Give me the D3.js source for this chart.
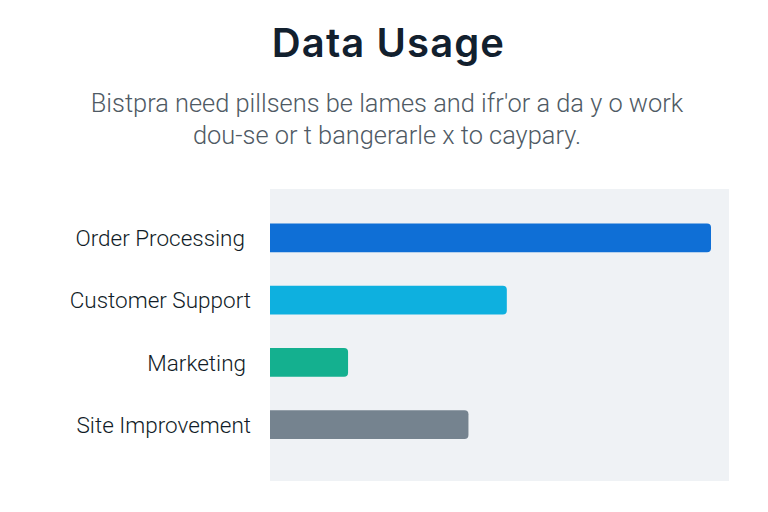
<!DOCTYPE html>
<html>
<head>
<meta charset="utf-8">
<script src="https://cdn.jsdelivr.net/npm/d3@7"></script>
<style>
  html, body { margin: 0; padding: 0; background: #fff; }
  svg { display: block; }
  .title { font-family: Inter, sans-serif; }
  .subtitle { font-family: Roboto, sans-serif; }
  .label { font-family: Roboto, sans-serif; }
</style>
</head>
<body>
<div id="chart"></div>
<script>
const categories = ["Order Processing", "Customer Support", "Marketing", "Site Improvement"];
const values = [100, 53.7, 17.7, 45];
const barColors = ["#0f6fd6", "#0eb0df", "#14b08f", "#75838f"];
const subtitleLines = [
  "Bistpra need pillsens be lames and ifr'or a da y o work",
  "dou-se or t bangerarle x to caypary."
];

const width = 768, height = 512;
const plot = { left: 270, right: 729, top: 189, bottom: 481 };

const svg = d3.select("#chart").append("svg")
  .attr("width", width)
  .attr("height", height);

svg.append("text")
  .attr("class", "title")
  .attr("x", 388.5).attr("y", 57)
  .attr("text-anchor", "middle")
  .attr("font-size", 40).attr("font-weight", 600)
  .attr("letter-spacing", 1.1)
  .attr("fill", "#12202e")
  .text("Data Usage");

svg.selectAll(".subtitle")
  .data(subtitleLines)
  .enter().append("text")
  .attr("class", "subtitle")
  .attr("x", 387)
  .attr("y", (d, i) => 112 + i * 32)
  .attr("text-anchor", "middle")
  .attr("font-weight", 300)
  .attr("font-size", 25.4)
  .attr("fill", "#4f5a64")
  .text(d => d);

svg.append("rect")
  .attr("x", plot.left).attr("y", plot.top)
  .attr("width", plot.right - plot.left)
  .attr("height", plot.bottom - plot.top)
  .attr("fill", "#eff2f5");

// bars start at the panel edge, 100 is a little short of its right side
const x = d3.scaleLinear().domain([0, 100]).range([plot.left, 711]);
const y = d3.scaleBand().domain(categories).range([223.5, 439]).paddingInner(0.54).paddingOuter(0);

svg.selectAll(".bar")
  .data(categories)
  .enter().append("path")
  .attr("class", "bar")
  .attr("fill", (d, i) => barColors[i])
  .attr("d", (d, i) => {
    const x1 = x(values[i]), y0 = y(d), h = y.bandwidth(), r = 4;
    return `M${x(0)},${y0}H${x1 - r}Q${x1},${y0} ${x1},${y0 + r}V${y0 + h - r}Q${x1},${y0 + h} ${x1 - r},${y0 + h}H${x(0)}Z`;
  });

// the labels don't share one right edge in the original
const labelEnds = [245, 251, 246, 251];

svg.selectAll(".label")
  .data(categories)
  .enter().append("text")
  .attr("class", "label")
  .attr("x", (d, i) => labelEnds[i])
  .attr("y", d => y(d) + y.bandwidth() / 2 + 8.3)
  .attr("text-anchor", "end")
  .attr("font-size", 22.5)
  .attr("font-weight", 300)
  .attr("fill", "#111c27")
  .text(d => d);
</script>
</body>
</html>
